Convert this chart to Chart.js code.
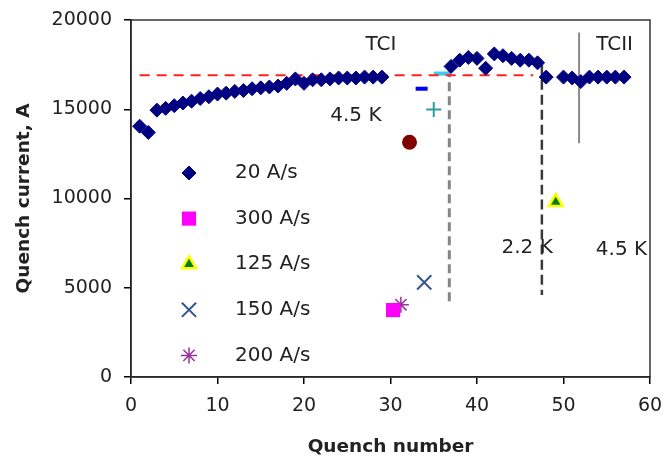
<!DOCTYPE html>
<html>
<head>
<meta charset="utf-8">
<script src="https://cdn.jsdelivr.net/npm/chart.js@4.4.1/dist/chart.umd.min.js"></script>
<style>
  html, body { margin: 0; padding: 0; background: #fff; }
  #wrap { width: 666px; height: 466px; }
</style>
</head>
<body>
<div id="wrap"><canvas id="c" width="666" height="466"></canvas></div>
<script>
// ─── Dados ───────────────────────────────────────────────────────────────
const quench20  = [1,2,3,4,5,6,7,8,9,10,11,12,13,14,15,16,17,18,19,20,21,22,23,24,25,26,27,28,29,
                   37,38,39,40,41,42,43,44,45,46,47,48,50,51,52,53,54,55,56,57];
const current20 = [14050,13700,14950,15050,15200,15350,15450,15600,15700,15850,15900,16000,16050,16150,16200,16250,16300,16450,16700,16450,16650,16650,16700,16750,16750,16750,16800,16800,16800,
                   17400,17750,17900,17850,17300,18100,18000,17850,17750,17750,17600,16800,16800,16750,16550,16800,16800,16800,16800,16800];

const quench300  = [30.3];  const current300 = [3750];
const quench125  = [49.1];  const current125 = [9800];
const quench150  = [33.9];  const current150 = [5300];
const quench200  = [31.2];  const current200 = [4050];

// marcadores avulsos sem legenda
const circleX = [32.2];  const circleY = [13150];
const dashX   = [33.6];  const dashY   = [16150];
const plusX   = [35.0];  const plusY   = [14980];

// linhas de referência
const refLineX   = [1, 46.5];   const refLineY   = [16900, 16900];
const cyanLineX  = [35, 36.8];  const cyanLineY  = [17000, 17000];
const grayDashX  = [36.8, 36.8]; const grayDashY  = [17300, 4150];
const blackDashX = [47.5, 47.5]; const blackDashY = [17500, 4600];
const tcLineX    = [51.8, 51.8]; const tcLineY    = [19300, 13100];

const xTicks = [0, 10, 20, 30, 40, 50, 60];
const yTicks = [0, 5000, 10000, 15000, 20000];

const legendLabels = ['20 A/s', '300 A/s', '125 A/s', '150 A/s', '200 A/s'];

const annotTexts = ['TCI', 'TCII', '4.5 K', '2.2 K', '4.5 K'];
const annotX     = [28.9, 55.9, 26.0, 45.8, 56.7];
const annotY     = [18600, 18600, 14650, 7250, 7100];

const FONT = '"DejaVu Sans", "Liberation Sans", Arial, sans-serif';

const pts = (xs, ys) => xs.map((x, i) => ({ x, y: ys[i] }));

function lineSet(xs, ys, color, width, dash, order) {
  return {
    type: 'line', data: pts(xs, ys), borderColor: color, borderWidth: width,
    borderDash: dash, pointRadius: 0, fill: false, tension: 0, order, showLine: true,
  };
}

const seriesDefs = [
  { data: pts(quench20, current20),   pointStyle: 'rectRot',  radius: 7,   backgroundColor: '#000080', borderColor: '#000080', borderWidth: 1 },
  { data: pts(quench300, current300), pointStyle: 'rect',     radius: 10,  backgroundColor: '#ff00ff', borderColor: '#ff00ff', borderWidth: 0 },
  { data: pts(quench125, current125), pointStyle: 'triangle', radius: 8,   backgroundColor: '#008000', borderColor: '#ffff00', borderWidth: 2.5 },
  { data: pts(quench150, current150), pointStyle: 'crossRot', radius: 10,  backgroundColor: '#34548a', borderColor: '#34548a', borderWidth: 2 },
  { data: pts(quench200, current200), pointStyle: 'star',     radius: 8,   backgroundColor: '#993399', borderColor: '#993399', borderWidth: 1.5 },
];

const datasets = seriesDefs.map((s, i) => ({
  label: legendLabels[i], data: s.data, pointStyle: s.pointStyle,
  pointRadius: s.radius, pointHoverRadius: s.radius,
  pointBackgroundColor: s.backgroundColor, pointBorderColor: s.borderColor,
  pointBorderWidth: s.borderWidth, showLine: false, order: 1,
}));

datasets.push(
  { data: pts(circleX, circleY), pointStyle: 'circle', pointRadius: 7.5, pointBackgroundColor: '#800000', pointBorderColor: '#800000', pointBorderWidth: 0, showLine: false, order: 1 },
  { data: pts(dashX, dashY),     pointStyle: 'line',   pointRadius: 6,   pointBorderColor: '#0000ff', pointBorderWidth: 4, showLine: false, order: 1 },
  { data: pts(plusX, plusY),     pointStyle: 'cross',  pointRadius: 7.5, pointBorderColor: '#2f9c9c', pointBorderWidth: 2, showLine: false, order: 1 },
  lineSet(refLineX, refLineY, '#ff2020', 2, [10, 7], 5),
  lineSet(cyanLineX, cyanLineY, '#3cc8f0', 4, [], 5),
  lineSet(grayDashX, grayDashY, '#858585', 3, [9, 5], 5),
  lineSet(blackDashX, blackDashY, '#3a3a3a', 2.5, [10, 5], 5),
  lineSet(tcLineX, tcLineY, '#8a8a8a', 2, [], 5),
);

// moldura do gráfico
const frame = {
  id: 'frame',
  beforeDatasetsDraw(chart) {
    const { ctx, chartArea: a } = chart;
    ctx.save();
    ctx.strokeStyle = '#333';
    ctx.lineWidth = 1.5;
    ctx.strokeRect(a.left, a.top, a.right - a.left, a.bottom - a.top);
    ctx.restore();
  }
};

// textos anotados no gráfico
const annots = {
  id: 'annots',
  afterDatasetsDraw(chart) {
    const { ctx, scales: { x, y } } = chart;
    ctx.save();
    ctx.fillStyle = '#222';
    ctx.font = '20px ' + FONT;
    ctx.textAlign = 'center';
    ctx.textBaseline = 'middle';
    annotTexts.forEach((t, i) => ctx.fillText(t, x.getPixelForValue(annotX[i]), y.getPixelForValue(annotY[i])));
    ctx.restore();
  }
};

// legenda desenhada dentro da área do gráfico
const insideLegend = {
  id: 'insideLegend',
  afterDatasetsDraw(chart) {
    const { ctx, chartArea: a } = chart;
    const mx = a.left + 58, tx = a.left + 104, y0 = a.top + 153, step = 45.6;
    ctx.save();
    legendLabels.forEach((lbl, i) => {
      const s = seriesDefs[i];
      const yy = y0 + i * step;
      ctx.fillStyle = s.backgroundColor;
      ctx.strokeStyle = s.borderColor;
      ctx.lineWidth = s.borderWidth;
      Chart.helpers.drawPoint(ctx, { pointStyle: s.pointStyle, radius: s.radius, rotation: 0, borderWidth: s.borderWidth }, mx, yy);
      ctx.fillStyle = '#222';
      ctx.font = '20px ' + FONT;
      ctx.textAlign = 'left';
      ctx.textBaseline = 'middle';
      ctx.fillText(lbl, tx, yy);
    });
    ctx.restore();
  }
};

new Chart(document.getElementById('c').getContext('2d'), {
  type: 'scatter',
  data: { datasets },
  options: {
    responsive: false, animation: false,
    layout: { padding: { left: 0, top: 20, right: 16, bottom: 0 } },
    plugins: { legend: { display: false }, tooltip: { enabled: false } },
    scales: {
      x: {
        type: 'linear', min: 0, max: 60,
        afterBuildTicks: s => { s.ticks = xTicks.map(v => ({ value: v })); },
        afterFit: s => { s.height = 89; s.paddingLeft = 0; s.paddingRight = 0; },
        ticks: { color: '#222', font: { family: FONT, size: 19 }, padding: 11, callback: v => String(v) },
        grid: { drawOnChartArea: false, drawTicks: true, tickLength: 7, color: '#000', lineWidth: 1.5 },
        border: { color: '#000', width: 1.5 },
        title: { display: true, text: 'Quench number', color: '#222', font: { family: FONT, size: 18.5, weight: 'bold' }, padding: { top: 0, bottom: 8 } },
      },
      y: {
        type: 'linear', min: 0, max: 20000,
        afterBuildTicks: s => { s.ticks = yTicks.map(v => ({ value: v })); },
        afterFit: s => { s.width = 131; s.paddingTop = 0; s.paddingBottom = 0; },
        ticks: { color: '#222', font: { family: FONT, size: 19 }, padding: 12, callback: v => String(v) },
        grid: { drawOnChartArea: false, drawTicks: true, tickLength: 7, color: '#000', lineWidth: 1.5 },
        border: { color: '#000', width: 1.5 },
        title: { display: true, text: 'Quench current, A', color: '#222', font: { family: FONT, size: 18.5, weight: 'bold' }, padding: { top: 13, bottom: 0 } },
      }
    }
  },
  plugins: [frame, annots, insideLegend]
});
</script>
</body>
</html>
